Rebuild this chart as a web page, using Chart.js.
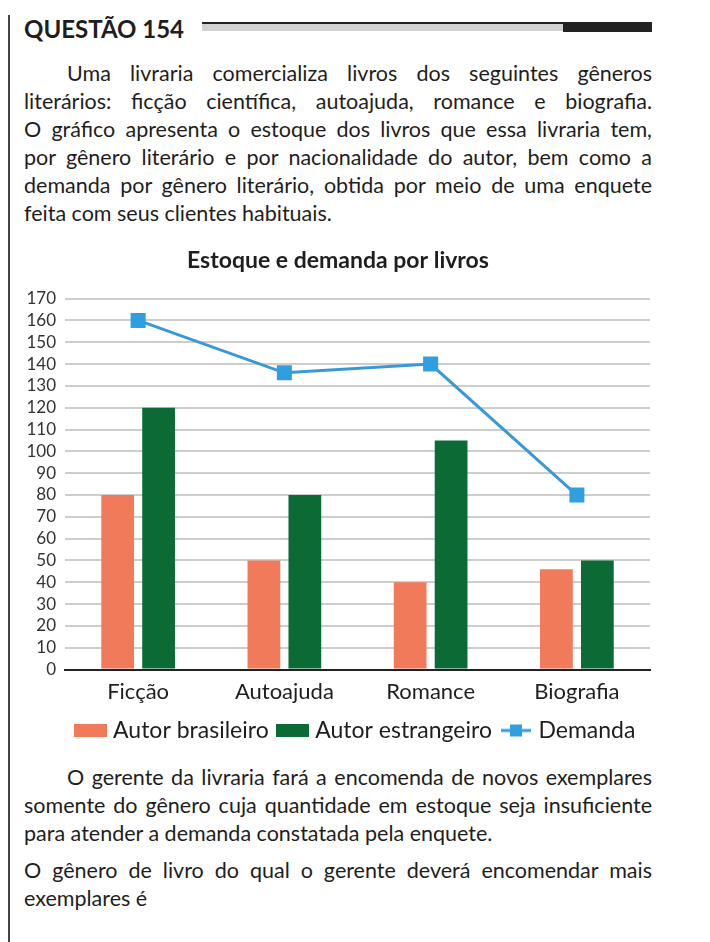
<!DOCTYPE html>
<html>
<head>
<meta charset="utf-8">
<script src="https://cdn.jsdelivr.net/npm/chart.js@4"></script>
<style>
  html, body { margin: 0; padding: 0; background: #fff; }
  body { width: 710px; height: 942px; position: relative; overflow: hidden;
         font-family: Lato, "Open Sans", sans-serif; color: #1e1e1e; }
  .vline { position: absolute; left: 8px; top: 15px; width: 2px; height: 927px; background: #444; }
  .head { position: absolute; left: 24px; top: 14px; font-weight: bold; font-size: 24px; line-height: 30px; color: #1e1e1e; }
  .bar-top { position: absolute; left: 202px; top: 22px; width: 450px; height: 2px; background: #222; }
  .bar-grey { position: absolute; left: 202px; top: 24px; width: 361px; height: 7px; background: #d2d2d2; }
  .bar-blk { position: absolute; left: 563px; top: 22px; width: 89px; height: 10px; background: #222; }
  .txt { position: absolute; left: 24px; width: 628px; font-size: 21.5px; line-height: 28px; }
  .txt span { display: block; text-align: justify; text-align-last: justify; white-space: nowrap; }
  .txt span.last { text-align-last: left; }
  .txt span.ind { padding-left: 43px; }
  #wrap { position: absolute; left: 0; top: 240px; width: 710px; height: 512px; }
</style>
</head>
<body>
<div class="vline"></div>
<div class="head">QUESTÃO 154</div>
<div class="bar-top"></div>
<div class="bar-grey"></div>
<div class="bar-blk"></div>

<div class="txt" style="top:59px">
  <span class="ind">Uma livraria comercializa livros dos seguintes gêneros</span>
  <span>literários: ficção científica, autoajuda, romance e biografia.</span>
  <span>O gráfico apresenta o estoque dos livros que essa livraria tem,</span>
  <span>por gênero literário e por nacionalidade do autor, bem como a</span>
  <span>demanda por gênero literário, obtida por meio de uma enquete</span>
  <span class="last">feita com seus clientes habituais.</span>
</div>

<div id="wrap"><canvas id="chart" width="710" height="512"></canvas></div>

<div class="txt" style="top:763px">
  <span class="ind">O gerente da livraria fará a encomenda de novos exemplares</span>
  <span>somente do gênero cuja quantidade em estoque seja insuficiente</span>
  <span class="last">para atender a demanda constatada pela enquete.</span>
</div>
<div class="txt" style="top:856px">
  <span>O gênero de livro do qual o gerente deverá encomendar mais</span>
  <span class="last">exemplares é</span>
</div>

<script>
// data
var generos = ['Ficção', 'Autoajuda', 'Romance', 'Biografia'];
var autorBrasileiro = [80, 50, 40, 46];
var autorEstrangeiro = [120, 80, 105, 50];
var demanda = [160, 136, 140, 80];

var ORANGE = '#f07a5a';
var GREEN = '#0c6b35';
var BLUE = '#3a98d6';
var FONT = 'Lato, "Open Sans", sans-serif';

// legend icons
function boxIcon(color) {
  var c = document.createElement('canvas');
  c.width = 33; c.height = 13;
  var g = c.getContext('2d');
  g.fillStyle = color;
  g.fillRect(0, 0, 33, 13);
  return c;
}
function lineIcon() {
  var c = document.createElement('canvas');
  c.width = 30; c.height = 14;
  var g = c.getContext('2d');
  g.strokeStyle = BLUE; g.lineWidth = 3;
  g.beginPath(); g.moveTo(0, 7); g.lineTo(30, 7); g.stroke();
  g.fillStyle = '#2f9fe0';
  g.fillRect(9, 1, 12, 12);
  return c;
}
var icons = [boxIcon(ORANGE), boxIcon(GREEN), lineIcon()];

var ctx = document.getElementById('chart').getContext('2d');
new Chart(ctx, {
  data: {
    labels: generos,
    datasets: [
      { type: 'bar', label: 'Autor brasileiro', data: autorBrasileiro, backgroundColor: ORANGE,
        categoryPercentage: 0.56, barPercentage: 0.8, order: 2 },
      { type: 'bar', label: 'Autor estrangeiro', data: autorEstrangeiro, backgroundColor: GREEN,
        categoryPercentage: 0.56, barPercentage: 0.8, order: 2 },
      { type: 'line', label: 'Demanda', data: demanda, borderColor: BLUE, borderWidth: 3,
        pointStyle: 'rect', pointRadius: 8.5, pointBackgroundColor: '#2f9fe0', pointBorderColor: '#2f9fe0',
        tension: 0, fill: false, order: 0 }
    ]
  },
  options: {
    responsive: false,
    animation: false,
    layout: { padding: { left: 26, right: 60, top: 0, bottom: 0 } },
    plugins: {
      title: {
        display: true,
        text: 'Estoque e demanda por livros',
        color: '#1e1e1e',
        font: { family: FONT, size: 23, weight: 'bold' },
        padding: { top: 7, bottom: 24 }
      },
      legend: {
        position: 'bottom',
        fullSize: false,
        labels: {
          usePointStyle: true,
          pointStyleWidth: 22,
          padding: 13,
          color: '#1e1e1e',
          font: { family: FONT, size: 23 },
          generateLabels: function(chart) {
            return chart.data.datasets.map(function(ds, i) {
              return { text: ds.label, pointStyle: icons[i], datasetIndex: i,
                       fillStyle: 'transparent', strokeStyle: 'transparent', lineWidth: 0, fontColor: '#1e1e1e' };
            });
          }
        }
      },
      tooltip: { enabled: false }
    },
    scales: {
      x: {
        grid: { display: false },
        border: { display: true, color: '#222', width: 2 },
        ticks: { color: '#1e1e1e', font: { family: FONT, size: 22 }, padding: 1 }
      },
      y: {
        min: 0, max: 170,
        ticks: { stepSize: 10, autoSkip: false, color: '#333', font: { family: FONT, size: 17 }, padding: 9 },
        grid: { color: '#cdcdcd', lineWidth: 2, drawTicks: false },
        border: { display: false },
        afterFit: function(scale) { scale.width = 39; }
      }
    }
  }
});
</script>
</body>
</html>
